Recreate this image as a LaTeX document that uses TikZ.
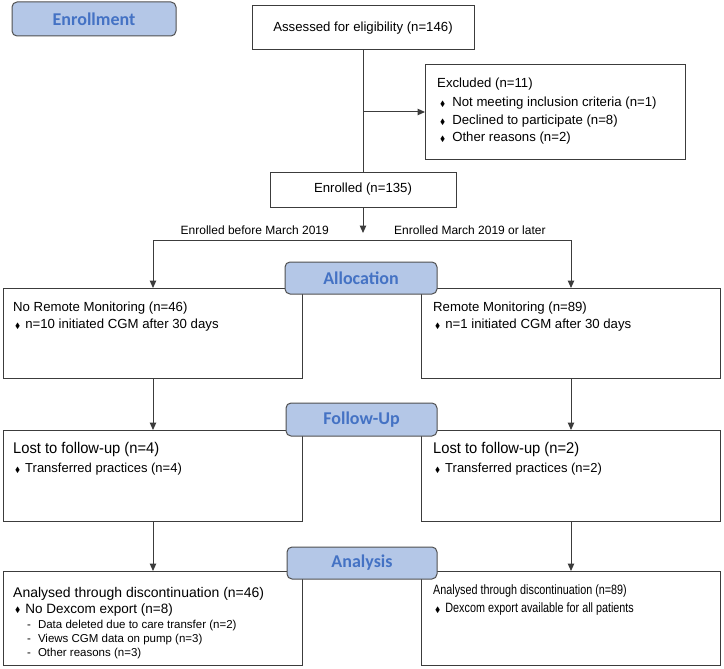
\documentclass[tikz,border=0pt]{standalone}
\usepackage{amssymb}
\usepackage{fontspec}
\setmainfont{Liberation Sans}
\newfontfamily\hdrfont{Carlito}
\newfontfamily\lostfont[FakeStretch=0.95]{Liberation Sans}
\newfontfamily\narrowfont[FakeStretch=0.8]{Liberation Sans}
\usepackage{tikz}
\usetikzlibrary{
  positioning,
  arrows.meta,
  calc
}
\definecolor{PhaseFill}{RGB}{180,199,231}
\definecolor{PhaseText}{RGB}{68,114,196}
\definecolor{PhaseBorder}{RGB}{80,80,80}
\definecolor{LineGray}{RGB}{60,60,60}
% small black diamond bullet
\newcommand{\dmd}[1][5pt]{\raisebox{0.4pt}{\scalebox{0.58}{$\blacklozenge$}}\hspace{#1}}
\tikzset{
  % phase header (rounded, blue)
  phase/.style={
    rectangle,
    rounded corners=5pt,
    draw=PhaseBorder,
    fill=PhaseFill,
    line width=1pt,
    inner sep=0pt,
    text=PhaseText,
    font=\hdrfont\bfseries\fontsize{18}{20}\selectfont
  },
  % box with centred text
  tbox/.style={
    rectangle,
    draw=LineGray,
    line width=1pt,
    inner sep=0pt,
    font=\fontsize{13.2}{16}\selectfont
  },
  % empty frame, placed by its top left corner
  frame/.style={
    rectangle,
    draw=LineGray,
    line width=1pt,
    inner sep=0pt,
    anchor=north west
  },
  % one line of text in a frame
  btext/.style={
    anchor=base west,
    inner sep=0pt,
    font=\fontsize{13.2}{16}\selectfont
  },
  % plain connector
  conn/.style={
    draw=LineGray,
    line width=1pt
  },
  % connector with arrow
  arr/.style={
    draw=LineGray,
    line width=1pt,
    -{Triangle[length=7.5pt,width=6.5pt]}
  },
  % branch label
  blabel/.style={
    inner sep=0pt,
    font=\fontsize{12}{14}\selectfont
  }
}

\begin{document}
\begin{tikzpicture}[x=1pt,y=-1pt]
  \useasboundingbox (0,0) rectangle (724,669);

  % Enrollment
  \node[tbox, minimum width=222pt, minimum height=44pt] (assess) at (363,28) {Assessed for eligibility (n=146)};
  \node[frame, minimum width=260pt, minimum height=95pt] (excl) at (425,64) {};
  \node[btext] (excl0) at (437,87.7) {Excluded (n=11)};
  \node[btext] (excl1) at (440,106.7) {\dmd[7pt]Not meeting inclusion criteria (n=1)};
  \node[btext] (excl2) at (440,124.7) {\dmd[7pt]Declined to participate (n=8)};
  \node[btext] (excl3) at (440,141.7) {\dmd[7pt]Other reasons (n=2)};
  \node[tbox, minimum width=186pt, minimum height=35pt] (enrol) at (363,189.5) {Enrolled (n=135)};

  \draw[conn] (assess.south) -- (enrol.north);
  \draw[arr] (assess.south |- excl.west) -- (excl.west);

  % split into the two arms
  \coordinate (split) at (363,233);
  \coordinate (fork) at (363,240);
  \draw[arr] (enrol.south) -- (split);
  \node[blabel, anchor=base east] (lblL) at (329,234.3) {Enrolled before March 2019};
  \node[blabel, anchor=base west] (lblR) at (394,234.3) {Enrolled March 2019 or later};

  % Allocation
  \node[frame, minimum width=299pt, minimum height=90pt] (noRM) at (3,288) {};
  \node[frame, minimum width=299pt, minimum height=90pt] (yesRM) at (421,288) {};
  \node[btext] (noRM1) at (13,311.7) {No Remote Monitoring (n=46)};
  \node[btext] (noRM2) at (15,328.7) {\dmd n=10 initiated CGM after 30 days};
  \node[btext] (yesRM1) at (433,311.7) {Remote Monitoring (n=89)};
  \node[btext] (yesRM2) at (435,328.7) {\dmd n=1 initiated CGM after 30 days};
  \draw[arr] (fork) -| (noRM.north);
  \draw[arr] (fork) -| (yesRM.north);

  % Follow-up
  \node[frame, minimum width=299pt, minimum height=91pt] (lostA) at (3,430) {};
  \node[frame, minimum width=299pt, minimum height=91pt] (lostB) at (421,430) {};
  \node[btext, font=\lostfont\fontsize{15.5}{18}\selectfont] (lostA1) at (13,453.5) {Lost to follow-up (n=4)};
  \node[btext, font=\fontsize{13}{16}\selectfont] (lostA2) at (15,472.7) {\dmd Transferred practices (n=4)};
  \node[btext, font=\lostfont\fontsize{15.5}{18}\selectfont] (lostB1) at (433,453.5) {Lost to follow-up (n=2)};
  \node[btext, font=\fontsize{13}{16}\selectfont] (lostB2) at (435,472.7) {\dmd Transferred practices (n=2)};
  \draw[arr] (noRM.south) -- (lostA.north);
  \draw[arr] (yesRM.south) -- (lostB.north);

  % Analysis
  \node[frame, minimum width=299pt, minimum height=94pt] (anaA) at (3,571) {};
  \node[frame, minimum width=299pt, minimum height=94pt] (anaB) at (421,571) {};
  \node[btext, font=\fontsize{14}{16}\selectfont] (anaA1) at (13,597) {Analysed through discontinuation (n=46)};
  \node[btext, font=\fontsize{13.5}{16}\selectfont] (anaA2) at (15,613) {\dmd No Dexcom export (n=8)};
  \node[btext, font=\fontsize{11.5}{14}\selectfont] (anaA3) at (27,628) {-\hspace{7pt}Data deleted due to care transfer (n=2)};
  \node[btext, font=\fontsize{11.5}{14}\selectfont] (anaA4) at (27,642) {-\hspace{7pt}Views CGM data on pump (n=3)};
  \node[btext, font=\fontsize{11.5}{14}\selectfont] (anaA5) at (27,656) {-\hspace{7pt}Other reasons (n=3)};
  \node[btext, font=\narrowfont\fontsize{13.5}{16}\selectfont] (anaB1) at (433,594.8) {Analysed through discontinuation (n=89)};
  \node[btext, font=\narrowfont\fontsize{13.5}{16}\selectfont] (anaB2) at (435,612.8) {\dmd Dexcom export available for all patients};
  \draw[arr] (lostA.south) -- (anaA.north);
  \draw[arr] (lostB.south) -- (anaB.north);

  % phase headers on top
  \node[phase, minimum width=164pt, minimum height=34pt] (hEnrol) at (94,19) {Enrollment};
  \node[phase, minimum width=152pt, minimum height=32pt] (hAlloc) at (361,278) {Allocation};
  \node[phase, minimum width=151pt, minimum height=33pt] (hFollow) at (361.5,419.5) {Follow-Up};
  \node[phase, minimum width=150pt, minimum height=32pt] (hAna) at (362,563) {Analysis};
\end{tikzpicture}
\end{document}
